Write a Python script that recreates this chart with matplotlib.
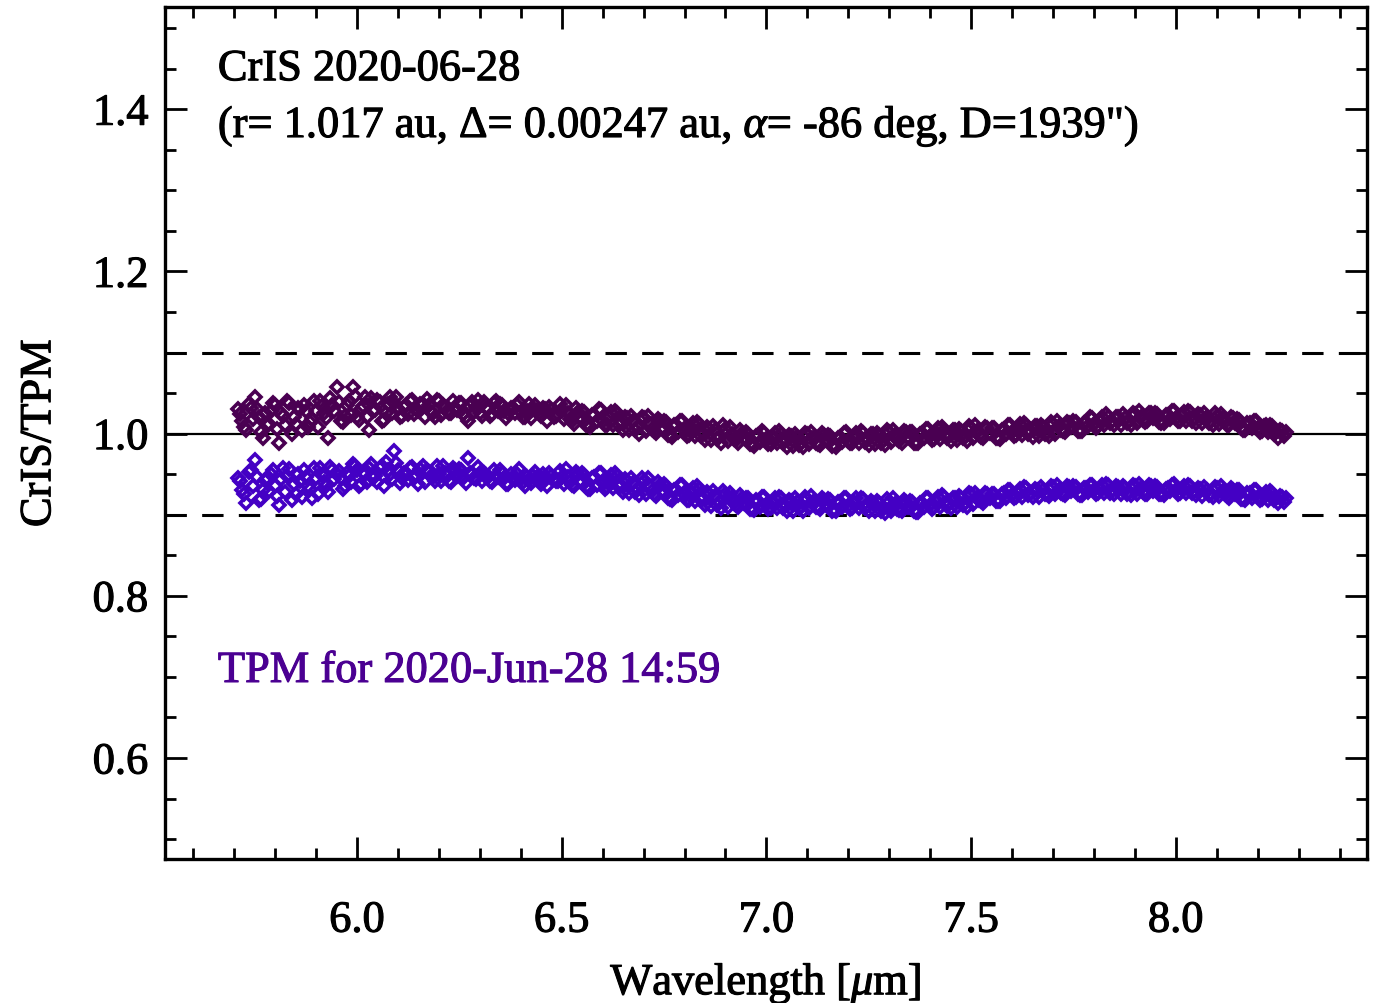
import numpy as np
import matplotlib
matplotlib.use("agg")
import matplotlib.pyplot as plt
import matplotlib.patheffects as pe
from matplotlib.ticker import MultipleLocator

plt.rcParams["font.family"] = ["Liberation Serif", "DejaVu Serif"]
plt.rcParams["mathtext.fontset"] = "custom"
plt.rcParams["mathtext.rm"] = "Liberation Serif"
plt.rcParams["mathtext.it"] = "Liberation Serif:italic"

# wavelength channels [micron], three interleaved grids
wl_a = [
    5.71, 5.73, 5.75, 5.77, 5.79, 5.81, 5.83, 5.85, 5.87, 5.89,
    5.91, 5.93, 5.95, 5.97, 5.99, 6.01, 6.03, 6.05, 6.07, 6.09,
    6.11, 6.13, 6.15, 6.17, 6.19, 6.21, 6.23, 6.25, 6.27, 6.29,
    6.31, 6.33, 6.35, 6.37, 6.39, 6.41, 6.43, 6.45, 6.47, 6.49,
    6.51, 6.53, 6.55, 6.57, 6.59, 6.61, 6.63, 6.65, 6.67, 6.69,
    6.71, 6.73, 6.75, 6.77, 6.79, 6.81, 6.83, 6.85, 6.87, 6.89,
    6.91, 6.93, 6.95, 6.97, 6.99, 7.01, 7.03, 7.05, 7.07, 7.09,
    7.11, 7.13, 7.15, 7.17, 7.19, 7.21, 7.23, 7.25, 7.27, 7.29,
    7.31, 7.33, 7.35, 7.37, 7.39, 7.41, 7.43, 7.45, 7.47, 7.49,
    7.51, 7.53, 7.55, 7.57, 7.59, 7.61, 7.63, 7.65, 7.67, 7.69,
    7.71, 7.73, 7.75, 7.77, 7.79, 7.81, 7.83, 7.85, 7.87, 7.89,
    7.91, 7.93, 7.95, 7.97, 7.99, 8.01, 8.03, 8.05, 8.07, 8.09,
    8.11, 8.13, 8.15, 8.17, 8.19, 8.21, 8.23, 8.25, 8.27,
]
wl_b = [
    5.72, 5.74, 5.76, 5.78, 5.80, 5.82, 5.84, 5.86, 5.88, 5.90,
    5.92, 5.94, 5.96, 5.98, 6.00, 6.02, 6.04, 6.06, 6.08, 6.10,
    6.12, 6.14, 6.16, 6.18, 6.20, 6.22, 6.24, 6.26, 6.28, 6.30,
    6.32, 6.34, 6.36, 6.38, 6.40, 6.42, 6.44, 6.46, 6.48, 6.50,
    6.52, 6.54, 6.56, 6.58, 6.60, 6.62, 6.64, 6.66, 6.68, 6.70,
    6.72, 6.74, 6.76, 6.78, 6.80, 6.82, 6.84, 6.86, 6.88, 6.90,
    6.92, 6.94, 6.96, 6.98, 7.00, 7.02, 7.04, 7.06, 7.08, 7.10,
    7.12, 7.14, 7.16, 7.18, 7.20, 7.22, 7.24, 7.26, 7.28, 7.30,
    7.32, 7.34, 7.36, 7.38, 7.40, 7.42, 7.44, 7.46, 7.48, 7.50,
    7.52, 7.54, 7.56, 7.58, 7.60, 7.62, 7.64, 7.66, 7.68, 7.70,
    7.72, 7.74, 7.76, 7.78, 7.80, 7.82, 7.84, 7.86, 7.88, 7.90,
    7.92, 7.94, 7.96, 7.98, 8.00, 8.02, 8.04, 8.06, 8.08, 8.10,
    8.12, 8.14, 8.16, 8.18, 8.20, 8.22, 8.24, 8.26,
]
wl_c = [
    5.715, 5.725, 5.735, 5.745, 5.755, 5.765, 5.775, 5.785, 5.795, 5.805,
    5.815, 5.825, 5.835, 5.845, 5.855, 5.865, 5.875, 5.885, 5.895, 5.905,
    5.915, 5.925, 5.935, 5.945, 5.955, 5.965, 5.975, 5.985, 5.995, 6.005,
    6.015, 6.025, 6.035, 6.045, 6.055, 6.065, 6.075, 6.085, 6.095, 6.105,
    6.115, 6.125, 6.135, 6.145, 6.155, 6.165, 6.175, 6.185, 6.195, 6.205,
    6.215, 6.225, 6.235, 6.245, 6.255, 6.265, 6.275, 6.285, 6.295, 6.305,
    6.315, 6.325, 6.335, 6.345, 6.355, 6.365, 6.375, 6.385, 6.395, 6.405,
    6.415, 6.425, 6.435, 6.445, 6.455, 6.465, 6.475, 6.485, 6.495, 6.505,
    6.515, 6.525, 6.535, 6.545, 6.555, 6.565, 6.575, 6.585, 6.595, 6.605,
    6.615, 6.625, 6.635, 6.645, 6.655, 6.665, 6.675, 6.685, 6.695, 6.705,
    6.715, 6.725, 6.735, 6.745, 6.755, 6.765, 6.775, 6.785, 6.795, 6.805,
    6.815, 6.825, 6.835, 6.845, 6.855, 6.865, 6.875, 6.885, 6.895, 6.905,
    6.915, 6.925, 6.935, 6.945, 6.955, 6.965, 6.975, 6.985, 6.995, 7.005,
    7.015, 7.025, 7.035, 7.045, 7.055, 7.065, 7.075, 7.085, 7.095, 7.105,
    7.115, 7.125, 7.135, 7.145, 7.155, 7.165, 7.175, 7.185, 7.195, 7.205,
    7.215, 7.225, 7.235, 7.245, 7.255, 7.265, 7.275, 7.285, 7.295, 7.305,
    7.315, 7.325, 7.335, 7.345, 7.355, 7.365, 7.375, 7.385, 7.395, 7.405,
    7.415, 7.425, 7.435, 7.445, 7.455, 7.465, 7.475, 7.485, 7.495, 7.505,
    7.515, 7.525, 7.535, 7.545, 7.555, 7.565, 7.575, 7.585, 7.595, 7.605,
    7.615, 7.625, 7.635, 7.645, 7.655, 7.665, 7.675, 7.685, 7.695, 7.705,
    7.715, 7.725, 7.735, 7.745, 7.755, 7.765, 7.775, 7.785, 7.795, 7.805,
    7.815, 7.825, 7.835, 7.845, 7.855, 7.865, 7.875, 7.885, 7.895, 7.905,
    7.915, 7.925, 7.935, 7.945, 7.955, 7.965, 7.975, 7.985, 7.995, 8.005,
    8.015, 8.025, 8.035, 8.045, 8.055, 8.065, 8.075, 8.085, 8.095, 8.105,
    8.115, 8.125, 8.135, 8.145, 8.155, 8.165, 8.175, 8.185, 8.195, 8.205,
    8.215, 8.225, 8.235, 8.245, 8.255, 8.265,
]

# CrIS/TPM ratio, upper (dark) series
dark_a = [
    1.030, 1.005, 1.045, 0.995, 1.028, 0.988, 1.040, 1.012, 1.035, 1.018,
    1.040, 0.995, 1.057, 1.022, 1.058, 1.030, 1.004, 1.042, 1.025, 1.038,
    1.022, 1.040, 1.028, 1.043, 1.020, 1.035, 1.026, 1.038, 1.016, 1.033,
    1.039, 1.024, 1.036, 1.025, 1.035, 1.020, 1.030, 1.022, 1.033, 1.024,
    1.035, 1.012, 1.028, 1.008, 1.030, 1.011, 1.028, 1.004, 1.022, 1.000,
    1.022, 1.001, 1.016, 0.996, 1.016, 0.998, 1.014, 0.992, 1.009, 0.989,
    1.008, 0.989, 1.002, 0.985, 1.003, 0.987, 1.003, 0.984, 1.000, 0.983,
    1.002, 0.986, 0.998, 0.984, 1.001, 0.988, 1.003, 0.986, 1.001, 0.986,
    1.005, 0.989, 1.002, 0.988, 1.006, 0.993, 1.008, 0.991, 1.006, 0.991,
    1.010, 0.994, 1.007, 0.993, 1.011, 0.998, 1.013, 0.996, 1.011, 0.997,
    1.015, 1.002, 1.015, 1.003, 1.020, 1.009, 1.024, 1.010, 1.024, 1.011,
    1.028, 1.015, 1.026, 1.013, 1.028, 1.016, 1.028, 1.013, 1.025, 1.010,
    1.024, 1.010, 1.018, 1.005, 1.016, 1.003, 1.011, 0.995, 1.002,
]
dark_b = [
    1.015, 1.032, 1.020, 1.010, 1.035, 1.022, 1.000, 1.030, 1.008, 1.028,
    1.025, 1.035, 1.015, 1.040, 1.020, 1.045, 1.028, 1.015, 1.045, 1.030,
    1.035, 1.024, 1.036, 1.027, 1.040, 1.028, 1.032, 1.024, 1.039, 1.026,
    1.030, 1.040, 1.028, 1.032, 1.027, 1.036, 1.028, 1.030, 1.020, 1.029,
    1.018, 1.027, 1.010, 1.023, 1.016, 1.027, 1.010, 1.019, 1.005, 1.019,
    1.006, 1.015, 0.998, 1.010, 1.003, 1.013, 0.997, 1.006, 0.993, 1.006,
    0.993, 1.001, 0.987, 0.998, 0.991, 1.001, 0.988, 0.997, 0.986, 0.999,
    0.989, 0.998, 0.985, 0.996, 0.991, 1.001, 0.990, 0.999, 0.989, 1.002,
    0.993, 1.002, 0.989, 1.001, 0.997, 1.007, 0.995, 1.004, 0.994, 1.007,
    0.998, 1.007, 0.994, 1.006, 1.002, 1.012, 1.000, 1.009, 0.999, 1.012,
    1.004, 1.013, 1.003, 1.014, 1.012, 1.021, 1.013, 1.021, 1.013, 1.024,
    1.017, 1.025, 1.014, 1.023, 1.019, 1.027, 1.016, 1.023, 1.013, 1.022,
    1.014, 1.019, 1.007, 1.013, 1.007, 1.011, 0.999, 1.003,
]
dark_c = [
    1.024, 1.008, 1.036, 1.018, 1.030, 1.002, 1.026, 1.012, 1.038, 1.006,
    1.026, 1.010, 1.038, 1.020, 1.032, 1.004, 1.028, 1.014, 1.040, 1.008,
    1.034, 1.019, 1.044, 1.028, 1.039, 1.014, 1.035, 1.023, 1.046, 1.017,
    1.034, 1.021, 1.044, 1.029, 1.039, 1.017, 1.036, 1.025, 1.045, 1.020,
    1.033, 1.024, 1.041, 1.030, 1.037, 1.020, 1.035, 1.026, 1.042, 1.023,
    1.032, 1.025, 1.040, 1.029, 1.038, 1.021, 1.034, 1.027, 1.041, 1.022,
    1.031, 1.022, 1.038, 1.028, 1.035, 1.019, 1.032, 1.025, 1.039, 1.021,
    1.028, 1.019, 1.035, 1.025, 1.032, 1.016, 1.029, 1.022, 1.036, 1.018,
    1.026, 1.016, 1.031, 1.021, 1.027, 1.011, 1.023, 1.016, 1.029, 1.011,
    1.020, 1.010, 1.025, 1.014, 1.020, 1.004, 1.016, 1.008, 1.021, 1.003,
    1.012, 1.003, 1.018, 1.007, 1.014, 0.998, 1.010, 1.002, 1.016, 0.997,
    1.006, 0.997, 1.012, 1.001, 1.008, 0.992, 1.004, 0.996, 1.010, 0.991,
    1.000, 0.992, 1.004, 0.995, 1.000, 0.987, 0.997, 0.990, 1.001, 0.987,
    0.995, 0.988, 1.000, 0.992, 0.998, 0.985, 0.996, 0.989, 1.001, 0.987,
    0.994, 0.987, 1.001, 0.993, 0.997, 0.986, 0.995, 0.990, 1.002, 0.988,
    0.995, 0.989, 1.001, 0.993, 1.000, 0.987, 0.998, 0.992, 1.004, 0.990,
    0.998, 0.991, 1.003, 0.996, 1.002, 0.989, 1.000, 0.994, 1.006, 0.992,
    1.000, 0.993, 1.005, 0.998, 1.004, 0.992, 1.003, 0.996, 1.009, 0.995,
    1.003, 0.996, 1.008, 1.001, 1.007, 0.994, 1.005, 0.999, 1.011, 0.997,
    1.005, 0.998, 1.011, 1.003, 1.009, 0.997, 1.008, 1.001, 1.014, 1.000,
    1.009, 1.003, 1.014, 1.008, 1.014, 1.003, 1.013, 1.009, 1.019, 1.007,
    1.016, 1.010, 1.021, 1.015, 1.020, 1.010, 1.019, 1.015, 1.025, 1.013,
    1.021, 1.014, 1.026, 1.019, 1.024, 1.013, 1.023, 1.018, 1.028, 1.015,
    1.023, 1.016, 1.027, 1.019, 1.024, 1.013, 1.021, 1.016, 1.025, 1.012,
    1.019, 1.011, 1.021, 1.013, 1.017, 1.005, 1.013, 1.007, 1.016, 1.002,
    1.009, 1.002, 1.009, 1.002, 1.005, 0.997,
]

# CrIS/TPM ratio, lower (violet) series
violet_a = [
    0.945, 0.915, 0.968, 0.930, 0.950, 0.912, 0.948, 0.925, 0.955, 0.920,
    0.958, 0.928, 0.950, 0.935, 0.962, 0.938, 0.957, 0.940, 0.965, 0.978,
    0.945, 0.958, 0.938, 0.955, 0.942, 0.960, 0.940, 0.956, 0.970, 0.944,
    0.952, 0.940, 0.955, 0.938, 0.950, 0.936, 0.948, 0.938, 0.951, 0.941,
    0.956, 0.935, 0.951, 0.932, 0.952, 0.934, 0.951, 0.928, 0.945, 0.924,
    0.945, 0.923, 0.938, 0.918, 0.937, 0.918, 0.935, 0.912, 0.929, 0.908,
    0.927, 0.910, 0.921, 0.906, 0.922, 0.908, 0.922, 0.905, 0.920, 0.905,
    0.923, 0.907, 0.919, 0.904, 0.921, 0.908, 0.921, 0.904, 0.917, 0.902,
    0.920, 0.904, 0.917, 0.903, 0.921, 0.909, 0.924, 0.908, 0.923, 0.910,
    0.927, 0.915, 0.926, 0.917, 0.931, 0.922, 0.934, 0.922, 0.934, 0.923,
    0.937, 0.924, 0.935, 0.924, 0.937, 0.927, 0.938, 0.925, 0.936, 0.924,
    0.938, 0.925, 0.935, 0.924, 0.937, 0.927, 0.937, 0.924, 0.934, 0.922,
    0.935, 0.921, 0.930, 0.918, 0.930, 0.919, 0.929, 0.914, 0.921,
]
violet_b = [
    0.930, 0.955, 0.918, 0.945, 0.935, 0.958, 0.918, 0.942, 0.935, 0.945,
    0.940, 0.955, 0.945, 0.948, 0.955, 0.950, 0.945, 0.960, 0.950, 0.955,
    0.950, 0.945, 0.960, 0.948, 0.950, 0.948, 0.955, 0.945, 0.950, 0.952,
    0.946, 0.948, 0.945, 0.947, 0.944, 0.943, 0.946, 0.945, 0.944, 0.946,
    0.940, 0.950, 0.934, 0.946, 0.939, 0.949, 0.934, 0.942, 0.928, 0.941,
    0.929, 0.937, 0.920, 0.931, 0.924, 0.933, 0.918, 0.926, 0.912, 0.925,
    0.914, 0.921, 0.907, 0.917, 0.912, 0.920, 0.908, 0.917, 0.908, 0.919,
    0.910, 0.918, 0.905, 0.916, 0.911, 0.920, 0.908, 0.915, 0.905, 0.916,
    0.907, 0.916, 0.904, 0.915, 0.912, 0.922, 0.911, 0.920, 0.912, 0.925,
    0.918, 0.925, 0.917, 0.927, 0.924, 0.932, 0.924, 0.931, 0.925, 0.934,
    0.927, 0.934, 0.925, 0.933, 0.930, 0.937, 0.927, 0.934, 0.926, 0.935,
    0.928, 0.935, 0.925, 0.933, 0.930, 0.936, 0.927, 0.932, 0.924, 0.933,
    0.925, 0.930, 0.919, 0.927, 0.922, 0.928, 0.918, 0.922,
]
violet_c = [
    0.941, 0.925, 0.953, 0.935, 0.947, 0.919, 0.943, 0.929, 0.955, 0.923,
    0.944, 0.928, 0.956, 0.938, 0.950, 0.922, 0.946, 0.932, 0.958, 0.926,
    0.949, 0.936, 0.959, 0.944, 0.954, 0.932, 0.951, 0.940, 0.960, 0.935,
    0.953, 0.940, 0.963, 0.948, 0.958, 0.936, 0.955, 0.944, 0.964, 0.939,
    0.952, 0.943, 0.959, 0.949, 0.956, 0.940, 0.953, 0.946, 0.960, 0.942,
    0.951, 0.942, 0.958, 0.948, 0.955, 0.939, 0.952, 0.945, 0.959, 0.941,
    0.949, 0.941, 0.955, 0.946, 0.952, 0.938, 0.950, 0.943, 0.956, 0.940,
    0.947, 0.939, 0.953, 0.944, 0.950, 0.936, 0.948, 0.941, 0.954, 0.938,
    0.947, 0.937, 0.953, 0.942, 0.949, 0.932, 0.945, 0.937, 0.951, 0.932,
    0.942, 0.933, 0.948, 0.937, 0.944, 0.927, 0.939, 0.932, 0.945, 0.926,
    0.935, 0.925, 0.940, 0.929, 0.936, 0.919, 0.931, 0.924, 0.937, 0.918,
    0.927, 0.917, 0.932, 0.921, 0.928, 0.911, 0.923, 0.916, 0.929, 0.910,
    0.920, 0.912, 0.924, 0.915, 0.921, 0.907, 0.918, 0.910, 0.922, 0.907,
    0.915, 0.908, 0.920, 0.912, 0.918, 0.905, 0.916, 0.909, 0.922, 0.908,
    0.916, 0.909, 0.921, 0.913, 0.918, 0.906, 0.916, 0.909, 0.921, 0.907,
    0.915, 0.908, 0.919, 0.911, 0.917, 0.904, 0.914, 0.908, 0.919, 0.905,
    0.913, 0.906, 0.918, 0.910, 0.916, 0.903, 0.915, 0.909, 0.921, 0.907,
    0.916, 0.909, 0.922, 0.915, 0.921, 0.909, 0.920, 0.914, 0.927, 0.913,
    0.921, 0.917, 0.927, 0.921, 0.926, 0.917, 0.925, 0.921, 0.930, 0.920,
    0.927, 0.922, 0.933, 0.926, 0.932, 0.922, 0.931, 0.926, 0.936, 0.925,
    0.931, 0.926, 0.936, 0.929, 0.934, 0.924, 0.933, 0.928, 0.937, 0.926,
    0.932, 0.927, 0.937, 0.930, 0.935, 0.925, 0.933, 0.928, 0.937, 0.926,
    0.933, 0.926, 0.937, 0.929, 0.934, 0.926, 0.932, 0.929, 0.938, 0.925,
    0.932, 0.927, 0.936, 0.929, 0.933, 0.923, 0.931, 0.926, 0.934, 0.923,
    0.929, 0.923, 0.933, 0.925, 0.930, 0.919, 0.927, 0.921, 0.930, 0.918,
    0.924, 0.918, 0.927, 0.920, 0.923, 0.916,
]

c_dark = "#4a0052"
c_violet = "#4400c4"
c_label = "#4b0092"
fs = 32

fig = plt.figure(figsize=(13.76, 10.04), dpi=100)
ax = fig.add_axes([165/1376, 144/1004, 1202/1376, 852/1004])

ax.axhline(1.0, color="black", lw=1.6, zorder=1)
for yl in (1.1, 0.9):
    ax.axhline(yl, color="black", lw=2.2, dashes=(7, 5), zorder=1)

wl = wl_a + wl_b + wl_c
series = [(dark_a + dark_b + dark_c, c_dark),
          (violet_a + violet_b + violet_c, c_violet)]
for vals, col in series:
    ax.plot(wl, vals, ls="none", marker="D", ms=6.6, mfc="none",
            mec=col, mew=2.6, zorder=2)

ax.set_xlim(5.531, 8.467)
ax.set_ylim(0.4755, 1.526)
ax.xaxis.set_major_locator(MultipleLocator(0.5))
ax.xaxis.set_minor_locator(MultipleLocator(0.1))
ax.yaxis.set_major_locator(MultipleLocator(0.2))
ax.yaxis.set_minor_locator(MultipleLocator(0.05))
ax.tick_params(which="both", direction="in", top=True, right=True,
               width=2, labelsize=fs)
ax.tick_params(which="major", length=16)
ax.tick_params(which="minor", length=8)
ax.tick_params(axis="x", pad=30)
ax.tick_params(axis="y", pad=12)
for s in ax.spines.values():
    s.set_linewidth(2.4)

ax.set_xlabel(r"Wavelength [$\mu$m]", fontsize=fs, labelpad=15)
ax.set_ylabel("CrIS/TPM", fontsize=fs, labelpad=24)

ax.text(0.044, 0.927, "CrIS 2020-06-28", transform=ax.transAxes,
        fontsize=fs, va="center", ha="left")
ax.text(0.044, 0.860,
        "(r= 1.017 au, \u0394= 0.00247 au, $\\alpha$= -86 deg, D=1939\")",
        transform=ax.transAxes, fontsize=fs, va="center", ha="left")
ax.text(0.044, 0.2207, "TPM for 2020-Jun-28 14:59", transform=ax.transAxes,
        fontsize=fs, va="center", ha="left", color=c_label)

# slightly heavier glyphs, like the original rendering
texts = ax.texts + [ax.xaxis.label, ax.yaxis.label]
texts += ax.get_xticklabels() + ax.get_yticklabels()
for t in texts:
    t.set_path_effects([pe.withStroke(linewidth=0.8, foreground=t.get_color())])

plt.savefig("out.png", dpi=100)
